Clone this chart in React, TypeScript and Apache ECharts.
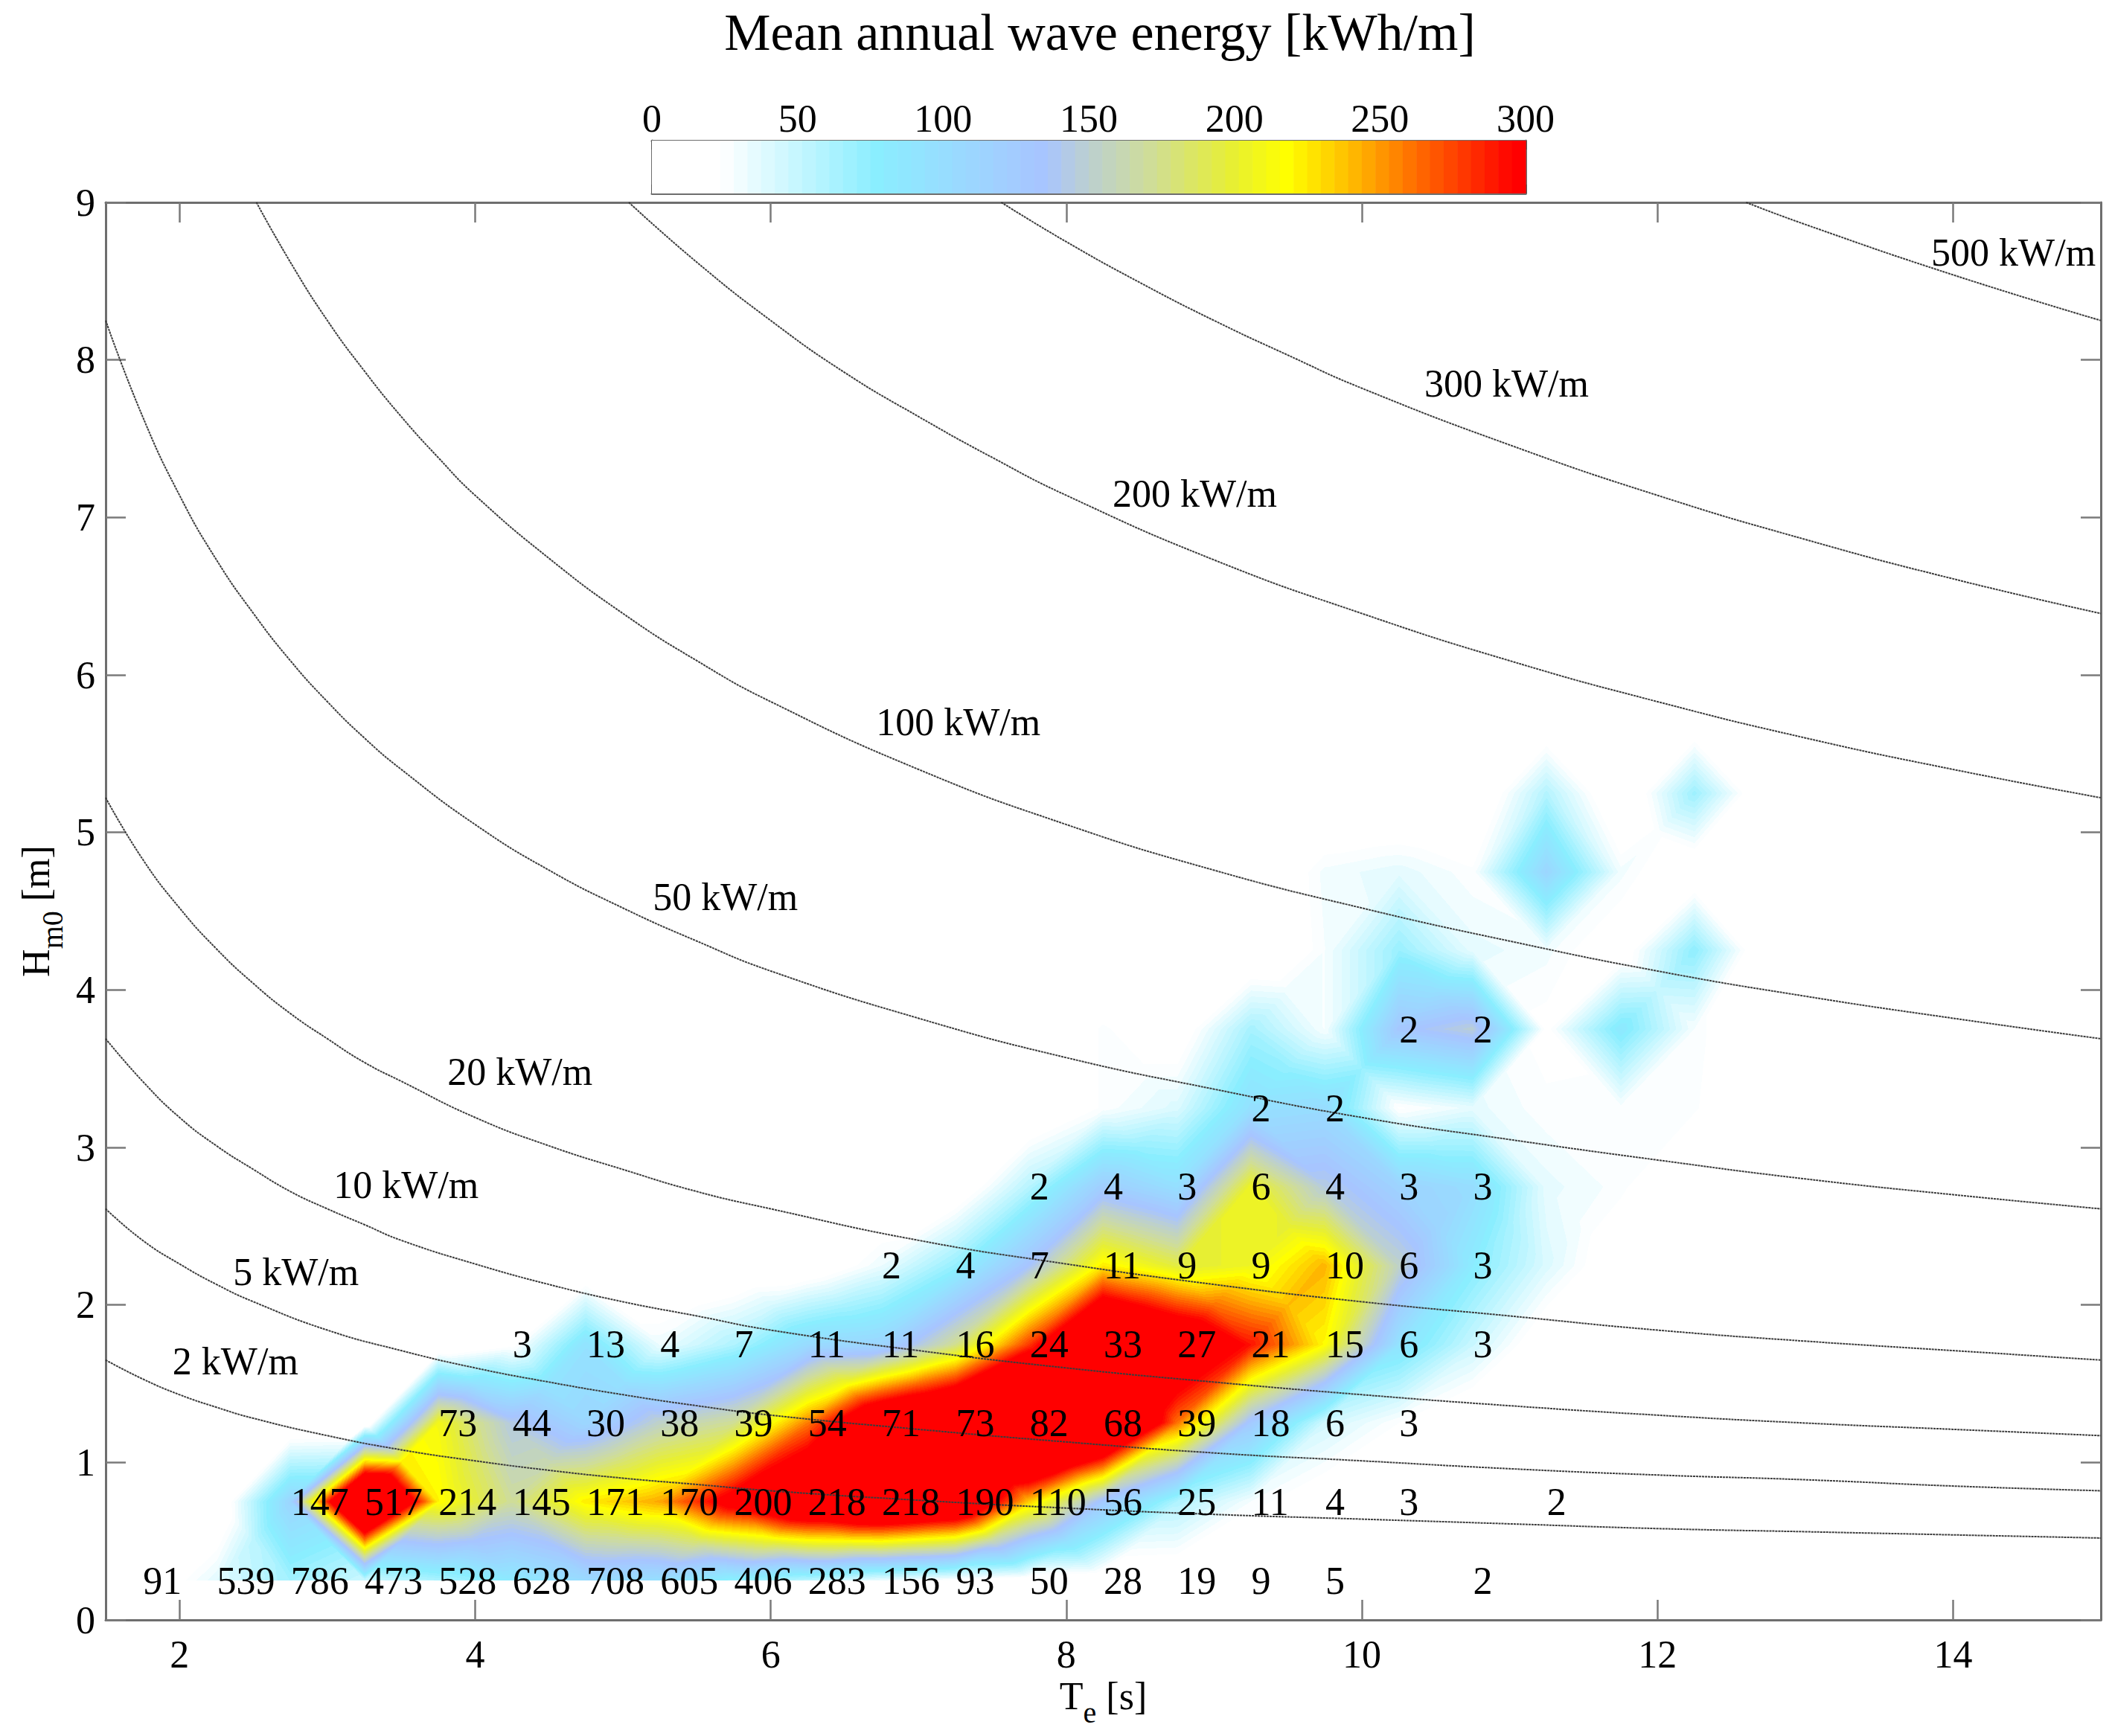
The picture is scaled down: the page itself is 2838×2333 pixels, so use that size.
import React, { useEffect, useRef } from "react";
import * as echarts from "echarts";

const FONT = '"Liberation Serif", "Times New Roman", serif';

// grid nodes of the wave scatter table
const nodeT = [1.75, 2.25, 2.75, 3.25, 3.75, 4.25, 4.75, 5.25, 5.75, 6.25, 6.75, 7.25, 7.75, 8.25, 8.75, 9.25, 9.75, 10.25, 10.75, 11.25, 11.75, 12.25, 12.75];
const nodeH = [0.25, 0.75, 1.25, 1.75, 2.25, 2.75, 3.25, 3.75, 4.25, 4.75, 5.25, 5.75];

// mean annual energy [kWh/m] at each node, one list per Hm0 row
const energyH025 = [5, 37, 66, 47, 61, 82, 103, 97, 72, 54, 32, 21, 12, 7, 5, 2.5, 1.5, 0.5, 0.7, 0, 0, 0, 0];
const energyH075 = [0, 1, 111, 463, 221, 170, 224, 246, 317, 376, 406, 380, 235, 127, 60, 28, 11, 8.5, 1.5, 6, 0, 0, 0];
const energyH125 = [0, 0, 0, 2, 210, 143, 109, 153, 172, 258, 367, 405, 487, 430, 261, 127, 45, 23.5, 3, 0, 0, 0, 0];
const energyH175 = [0, 0, 0, 0, 0, 19, 93, 32, 60, 103, 111, 174, 279, 408, 355, 291, 219, 92, 48, 8, 0, 0, 0];
const energyH225 = [0, 0, 0, 0, 0, 0, 0, 0, 0, 5, 33, 72, 135, 225, 195, 206, 242, 153, 80, 40, 8, 0, 0];
const energyH275 = [0, 0, 0, 0, 0, 0, 0, 0, 0, 0, 0, 5, 57, 122, 97, 206, 145, 114, 100, 35, 26, 0, 0];
const energyH325 = [0, 0, 0, 0, 0, 0, 0, 0, 0, 0, 0, 0, 0, 25, 40, 96, 101, 22, 35, 25, 26, 25, 0];
const energyH375 = [0, 0, 0, 0, 0, 0, 0, 0, 0, 0, 0, 0, 0, 25, 10, 64, 28, 130, 148, 20, 85, 28, 0];
const energyH425 = [0, 0, 0, 0, 0, 0, 0, 0, 0, 0, 0, 0, 0, 0, 0, 0, 28, 70, 35, 30, 12, 75, 0];
const energyH475 = [0, 0, 0, 0, 0, 0, 0, 0, 0, 0, 0, 0, 0, 0, 0, 0, 30, 36, 25, 110, 30, 5, 0];
const energyH525 = [0, 0, 0, 0, 0, 0, 0, 0, 0, 0, 0, 0, 0, 0, 0, 0, 0, 0, 0, 58, 0, 68, 0];
const energyH575 = [0, 0, 0, 0, 0, 0, 0, 0, 0, 0, 0, 0, 0, 0, 0, 0, 0, 0, 0, 0, 0, 0, 0];
const energyRows = [energyH025, energyH075, energyH125, energyH175, energyH225, energyH275, energyH325, energyH375, energyH425, energyH475, energyH525, energyH575];

// printed occurrence counts, 0 means no label
const countH025 = [91, 539, 786, 473, 528, 628, 708, 605, 406, 283, 156, 93, 50, 28, 19, 9, 5, 0, 2, 0, 0, 0, 0];
const countH075 = [0, 0, 147, 517, 214, 145, 171, 170, 200, 218, 218, 190, 110, 56, 25, 11, 4, 3, 0, 2, 0, 0, 0];
const countH125 = [0, 0, 0, 0, 73, 44, 30, 38, 39, 54, 71, 73, 82, 68, 39, 18, 6, 3, 0, 0, 0, 0, 0];
const countH175 = [0, 0, 0, 0, 0, 3, 13, 4, 7, 11, 11, 16, 24, 33, 27, 21, 15, 6, 3, 0, 0, 0, 0];
const countH225 = [0, 0, 0, 0, 0, 0, 0, 0, 0, 0, 2, 4, 7, 11, 9, 9, 10, 6, 3, 0, 0, 0, 0];
const countH275 = [0, 0, 0, 0, 0, 0, 0, 0, 0, 0, 0, 0, 2, 4, 3, 6, 4, 3, 3, 0, 0, 0, 0];
const countH325 = [0, 0, 0, 0, 0, 0, 0, 0, 0, 0, 0, 0, 0, 0, 0, 2, 2, 0, 0, 0, 0, 0, 0];
const countH375 = [0, 0, 0, 0, 0, 0, 0, 0, 0, 0, 0, 0, 0, 0, 0, 0, 0, 2, 2, 0, 0, 0, 0];
const countRows = [countH025, countH075, countH125, countH175, countH225, countH275, countH325, countH375];

// iso-power curves: [Te, Hm0]
const iso2 = [[1.5, 1.65], [1.75, 1.53], [2, 1.43], [2.25, 1.35], [2.5, 1.28], [3, 1.17], [3.5, 1.08], [4, 1.01], [4.5, 0.95], [5, 0.9], [5.5, 0.86], [6, 0.82], [7, 0.76], [8, 0.71], [9, 0.67], [10, 0.64], [11, 0.61], [12, 0.58], [13, 0.56], [14, 0.54], [15, 0.52]];
const iso5 = [[1.5, 2.61], [1.75, 2.41], [2, 2.26], [2.25, 2.13], [2.5, 2.02], [3, 1.84], [3.5, 1.71], [4, 1.6], [4.5, 1.51], [5, 1.43], [5.5, 1.36], [6, 1.3], [7, 1.21], [8, 1.13], [9, 1.06], [10, 1.01], [11, 0.96], [12, 0.92], [13, 0.89], [14, 0.85], [15, 0.82]];
const iso10 = [[1.5, 3.69], [1.75, 3.42], [2, 3.19], [2.25, 3.01], [2.5, 2.86], [2.75, 2.72], [3, 2.61], [3.25, 2.51], [3.5, 2.41], [4, 2.26], [4.5, 2.13], [5, 2.02], [5.5, 1.93], [6, 1.84], [7, 1.71], [8, 1.6], [9, 1.51], [10, 1.43], [11, 1.36], [12, 1.3], [13, 1.25], [14, 1.21], [15, 1.17]];
const iso20 = [[1.5, 5.22], [1.75, 4.83], [2, 4.52], [2.25, 4.26], [2.5, 4.04], [2.75, 3.85], [3, 3.69], [3.25, 3.54], [3.5, 3.42], [4, 3.19], [4.5, 3.01], [5, 2.86], [5.5, 2.72], [6, 2.61], [7, 2.41], [8, 2.26], [9, 2.13], [10, 2.02], [11, 1.93], [12, 1.84], [13, 1.77], [14, 1.71], [15, 1.65]];
const iso50 = [[1.5, 8.25], [1.75, 7.64], [2, 7.14], [2.25, 6.73], [2.5, 6.39], [2.75, 6.09], [3, 5.83], [3.25, 5.6], [3.5, 5.4], [4, 5.05], [4.5, 4.76], [5, 4.52], [5.5, 4.31], [6, 4.12], [7, 3.82], [8, 3.57], [9, 3.37], [10, 3.19], [11, 3.05], [12, 2.92], [13, 2.8], [14, 2.7], [15, 2.61]];
const iso100 = [[2.52, 9], [2.75, 8.62], [3, 8.25], [3.25, 7.93], [3.5, 7.64], [3.75, 7.38], [4, 7.14], [4.5, 6.74], [5, 6.39], [5.5, 6.09], [6, 5.83], [7, 5.4], [8, 5.05], [9, 4.76], [10, 4.52], [11, 4.31], [12, 4.12], [13, 3.96], [14, 3.82], [15, 3.69]];
const iso200 = [[5.04, 9], [5.5, 8.62], [6, 8.25], [6.5, 7.92], [7, 7.64], [7.5, 7.38], [8, 7.14], [9, 6.73], [10, 6.39], [11, 6.09], [12, 5.83], [13, 5.6], [14, 5.4], [15, 5.22]];
const iso300 = [[7.56, 9], [8, 8.75], [8.5, 8.49], [9, 8.25], [9.5, 8.03], [10, 7.82], [11, 7.46], [12, 7.14], [13, 6.86], [14, 6.61], [15, 6.39]];
const iso500 = [[12.6, 9], [13, 8.86], [14, 8.54], [15, 8.25]];
const isoCurves = [iso2, iso5, iso10, iso20, iso50, iso100, iso200, iso300, iso500];

const isoLabelText = ["2 kW/m", "5 kW/m", "10 kW/m", "20 kW/m", "50 kW/m", "100 kW/m", "200 kW/m", "300 kW/m", "500 kW/m"];
const isoLabelT = [1.95, 2.36, 3.04, 3.81, 5.2, 6.71, 8.31, 10.42, 13.85];
const isoLabelH = [1.64, 2.21, 2.76, 3.48, 4.59, 5.7, 7.15, 7.85, 8.68];

const xTicks = [2, 4, 6, 8, 10, 12, 14];

// colour ramp of the colour bar: [energy, r, g, b]
const rampStops = [
  [0, 255, 255, 255], [24, 255, 255, 255], [77, 138, 238, 255], [102, 152, 220, 255], [135, 168, 196, 255],
  [150, 188, 208, 208], [170, 206, 220, 156], [200, 232, 240, 48], [218, 255, 255, 0], [235, 255, 204, 0],
  [250, 255, 152, 0], [263, 255, 106, 0], [286, 255, 32, 0], [296, 255, 0, 0], [300, 255, 0, 0],
];
const RAMP_LEVELS = 64;
const RAMP_MAX = 300;

function rampColor(v: number): [number, number, number] {
  const level = Math.max(0, Math.min(RAMP_LEVELS - 1, Math.floor((v / RAMP_MAX) * RAMP_LEVELS)));
  const c = ((level + 0.5) / RAMP_LEVELS) * RAMP_MAX;
  for (let i = 1; i < rampStops.length; i++) {
    const a = rampStops[i - 1];
    const b = rampStops[i];
    if (c <= b[0]) {
      const f = (c - a[0]) / (b[0] - a[0]);
      return [a[1] + f * (b[1] - a[1]), a[2] + f * (b[2] - a[2]), a[3] + f * (b[3] - a[3])];
    }
  }
  return [255, 0, 0];
}

// one cell of the table: a lone high or low corner is cut off along a diagonal,
// any other cell is shaded as four triangles meeting at its centre
function cellImage(w: number, h: number, a: number, b: number, c: number, d: number): string {
  const canvas = document.createElement("canvas");
  canvas.width = w;
  canvas.height = h;
  const ctx = canvas.getContext("2d")!;
  const img = ctx.createImageData(w, h);
  const m = (a + b + c + d) / 4;
  const dAC = Math.abs(a - c);
  const dBD = Math.abs(b - d);
  const range = Math.max(a, b, c, d) - Math.min(a, b, c, d);
  const useDiagonal = Math.abs(dAC - dBD) > 0.5 * range;
  const diagAC = dAC < dBD;
  for (let py = 0; py < h; py++) {
    for (let px = 0; px < w; px++) {
      const u = (px + 0.5) / w;
      const t = 1 - (py + 0.5) / h;
      let v: number;
      if (useDiagonal) {
        if (diagAC) v = t < u ? a + u * (b - a) + t * (c - b) : a + t * (d - a) + u * (c - d);
        else v = u + t < 1 ? a + u * (b - a) + t * (d - a) : c + (1 - u) * (d - c) + (1 - t) * (b - c);
      } else if (t <= u && t <= 1 - u) v = 2 * t * m + (1 - u - t) * a + (u - t) * b;
      else if (u >= t && u >= 1 - t) v = 2 * (1 - u) * m + (u - t) * b + (u + t - 1) * c;
      else if (t >= u && t >= 1 - u) v = 2 * (1 - t) * m + (u + t - 1) * c + (t - u) * d;
      else v = 2 * u * m + (t - u) * d + (1 - u - t) * a;
      const rgb = rampColor(v);
      const k = (py * w + px) * 4;
      img.data[k] = rgb[0];
      img.data[k + 1] = rgb[1];
      img.data[k + 2] = rgb[2];
      img.data[k + 3] = 255;
    }
  }
  ctx.putImageData(img, 0, 0);
  return canvas.toDataURL();
}

const axisGray = "#6e6e6e";

export default function App() {
  const ref = useRef<HTMLDivElement>(null);
  useEffect(() => {
    const chart = echarts.init(ref.current!, undefined, { renderer: "svg" });

    const cells: number[][] = [];
    for (let j = 0; j < nodeH.length - 1; j++) {
      for (let i = 0; i < nodeT.length - 1; i++) {
        const a = energyRows[j][i];
        const b = energyRows[j][i + 1];
        const c = energyRows[j + 1][i + 1];
        const d = energyRows[j + 1][i];
        if (Math.max(a, b, c, d) > 24) cells.push([nodeT[i], nodeH[j], nodeT[i + 1], nodeH[j + 1], a, b, c, d]);
      }
    }

    const countPoints: number[][] = [];
    countRows.forEach((row, j) =>
      row.forEach((n, i) => {
        if (n > 0) countPoints.push([nodeT[i], nodeH[j], n]);
      })
    );

    const isoLabelPoints = isoLabelText.map((s, i) => [isoLabelT[i], isoLabelH[i], s]);

    const barLevels: number[][] = [];
    for (let i = 0; i < RAMP_LEVELS; i++) barLevels.push([(i / RAMP_LEVELS) * RAMP_MAX, ((i + 1) / RAMP_LEVELS) * RAMP_MAX]);

    const mainAxisLine = { show: true, onZero: false, lineStyle: { color: axisGray, width: 3 } };
    const tickStyle = { show: true, inside: true, length: 27, lineStyle: { color: "#7a7a7a", width: 2.5 } };
    const labelStyle = { color: "#000", fontFamily: FONT, fontSize: 52 };
    const barAxisLine = { show: true, onZero: false, lineStyle: { color: axisGray, width: 3 } };
    const barTick = { show: true, inside: true, length: 12, lineStyle: { color: "#555", width: 2.5 } };

    const nameRich = {
      a: { fontFamily: FONT, fontSize: 52, color: "#000", verticalAlign: "top", lineHeight: 50 },
      b: { fontFamily: FONT, fontSize: 40, color: "#000", verticalAlign: "bottom", lineHeight: 68 },
    };

    chart.setOption({
      animation: false,
      backgroundColor: "#fff",
      title: {
        text: "Mean annual wave energy [kWh/m]",
        left: 1473,
        top: 3,
        textAlign: "center",
        textStyle: { fontFamily: FONT, fontSize: 70, fontWeight: "normal", color: "#000" },
      },
      grid: [
        { left: 142, top: 272, width: 2681, height: 1905, outerBoundsMode: "none" },
        { left: 876, top: 189, width: 1174, height: 71, outerBoundsMode: "none" },
      ],
      xAxis: [
        {
          type: "value", gridIndex: 0, position: "bottom", min: 1.5, max: 15,
          splitLine: { show: false }, axisLine: mainAxisLine,
          axisTick: { ...tickStyle, customValues: xTicks },
          axisLabel: { ...labelStyle, margin: 20, customValues: xTicks },
          name: "{a|T}{b|e}{a| [s]}", nameLocation: "middle", nameGap: 67,
          nameTextStyle: { rich: nameRich },
        },
        {
          type: "value", gridIndex: 0, position: "top", min: 1.5, max: 15,
          splitLine: { show: false }, axisLine: mainAxisLine,
          axisTick: { ...tickStyle, customValues: xTicks },
          axisLabel: { show: false },
        },
        {
          type: "value", gridIndex: 1, position: "top", min: 0, max: 300, interval: 50,
          splitLine: { show: false }, axisLine: barAxisLine, axisTick: barTick,
          axisLabel: { ...labelStyle, margin: 4 },
        },
        {
          type: "value", gridIndex: 1, position: "bottom", min: 0, max: 300, interval: 50,
          splitLine: { show: false }, axisLine: barAxisLine, axisTick: barTick,
          axisLabel: { show: false },
        },
      ],
      yAxis: [
        {
          type: "value", gridIndex: 0, position: "left", min: 0, max: 9, interval: 1,
          splitLine: { show: false }, axisLine: mainAxisLine, axisTick: tickStyle,
          axisLabel: { ...labelStyle, margin: 14 },
          name: "{a|H}{b|m0}{a| [m]}", nameLocation: "middle", nameGap: 52,
          nameTextStyle: { rich: nameRich },
        },
        {
          type: "value", gridIndex: 0, position: "right", min: 0, max: 9, interval: 1,
          splitLine: { show: false }, axisLine: mainAxisLine, axisTick: tickStyle,
          axisLabel: { show: false },
        },
        {
          type: "value", gridIndex: 1, position: "left", min: 0, max: 1,
          splitLine: { show: false }, axisLine: barAxisLine, axisTick: { show: false }, axisLabel: { show: false },
        },
        {
          type: "value", gridIndex: 1, position: "right", min: 0, max: 1,
          splitLine: { show: false }, axisLine: barAxisLine, axisTick: { show: false }, axisLabel: { show: false },
        },
      ],
      series: [
        {
          type: "custom",
          name: "Mean annual wave energy",
          xAxisIndex: 0,
          yAxisIndex: 0,
          z: 1,
          silent: true,
          data: cells,
          encode: { x: [0, 2], y: [1, 3] },
          renderItem: (_p: any, api: any) => {
            const p0 = api.coord([api.value(0), api.value(1)]);
            const p1 = api.coord([api.value(2), api.value(3)]);
            const x = Math.round(p0[0]);
            const xEnd = Math.round(p1[0]);
            const y = Math.round(p1[1]);
            const yEnd = Math.round(p0[1]);
            const w = xEnd - x;
            const h = yEnd - y;
            return {
              type: "image",
              style: {
                image: cellImage(w, h, api.value(4), api.value(5), api.value(6), api.value(7)),
                x, y, width: w, height: h,
              },
            };
          },
        },
        {
          type: "custom",
          name: "Colour bar",
          xAxisIndex: 2,
          yAxisIndex: 2,
          z: 1,
          silent: true,
          data: barLevels,
          encode: { x: [0, 1] },
          renderItem: (_p: any, api: any) => {
            const v0 = api.value(0);
            const v1 = api.value(1);
            const p0 = api.coord([v0, 0]);
            const p1 = api.coord([v1, 1]);
            const rgb = rampColor((v0 + v1) / 2).map(Math.round);
            const fill = `rgb(${rgb[0]},${rgb[1]},${rgb[2]})`;
            return {
              type: "rect",
              shape: { x: p0[0], y: p1[1], width: p1[0] - p0[0] + 0.6, height: p0[1] - p1[1] },
              style: { fill },
            };
          },
        },
        ...isoCurves.map((curve, i) => ({
          type: "line",
          name: isoLabelText[i],
          xAxisIndex: 0,
          yAxisIndex: 0,
          z: 2,
          silent: true,
          data: curve,
          smooth: true,
          showSymbol: false,
          lineStyle: { color: "#3c3c3c", width: 2, type: [3, 1] },
        })),
        {
          type: "scatter",
          name: "Power labels",
          xAxisIndex: 0,
          yAxisIndex: 0,
          z: 3,
          silent: true,
          symbolSize: 1,
          itemStyle: { color: "transparent", opacity: 1 },
          data: isoLabelPoints,
          encode: { x: 0, y: 1 },
          label: {
            show: true, position: "right", distance: 0, color: "#000", opacity: 1, fontFamily: FONT, fontSize: 52,
            formatter: (p: any) => p.data[2],
          },
        },
        {
          type: "scatter",
          name: "Occurrence counts",
          xAxisIndex: 0,
          yAxisIndex: 0,
          z: 4,
          silent: true,
          symbolSize: 1,
          itemStyle: { color: "transparent", opacity: 1 },
          data: countPoints,
          encode: { x: 0, y: 1 },
          label: {
            show: true, position: "right", distance: 0, color: "#000", opacity: 1, fontFamily: FONT, fontSize: 52,
            formatter: (p: any) => String(p.data[2]),
          },
        },
      ],
    });
    return () => chart.dispose();
  }, []);
  return <div ref={ref} style={{ position: "absolute", left: 0, top: 0, width: 2838, height: 2333 }} />;
}
